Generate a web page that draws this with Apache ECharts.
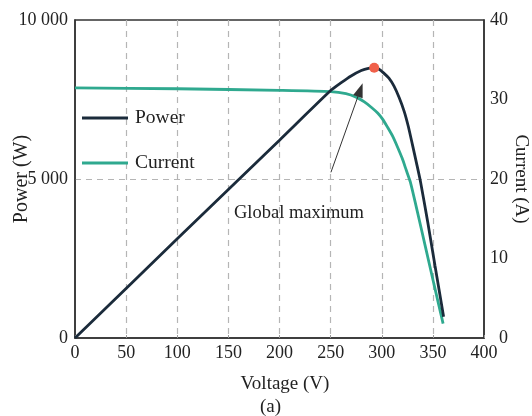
<!DOCTYPE html>
<html>
<head>
<meta charset="utf-8">
<script src="https://cdn.jsdelivr.net/npm/echarts@6/dist/echarts.min.js"></script>
<style>html,body{margin:0;padding:0;background:#fff;}#c{width:532px;height:416px;}</style>
</head>
<body>
<div id="c"></div>
<script>
// Voltage (V) -> Power (W)
const powerData = [
  [0, 0], [100, 3120], [200, 6220], [250, 7780],
  [260, 8020], [270, 8240], [280, 8410], [287, 8480], [292.6, 8500],
  [297, 8460], [302, 8330], [307, 8170], [312, 7920], [317, 7560],
  [322, 7120], [326, 6650], [330, 6080], [334, 5500], [338, 4900],
  [345, 3640], [352, 2290], [360.5, 670]
];
// Voltage (V) -> Current (A)
const currentData = [
  [0, 31.45], [100, 31.35], [200, 31.15], [250, 31.0],
  [265, 30.75], [275, 30.3], [283, 29.7], [290, 29.0], [296, 28.3],
  [301, 27.5], [305.7, 26.5], [311, 25.3], [315.5, 24.0], [320, 22.6],
  [324, 21.1], [328, 19.6], [335, 15.8], [343, 11.3], [351, 6.8], [360, 1.8]
];
const maxPoint = [[292.6, 8500]];
const arrowFrom = [250.3, 5210];
const arrowTo = [279, 7800];
const xTicks = { min: 0, max: 400, interval: 50 };
const powerTicks = { min: 0, max: 10000, interval: 5000 };
const currentTicks = { min: 0, max: 40, interval: 10 };

const FONT = 'Liberation Serif';
const chart = echarts.init(document.getElementById('c'));
const fmtThousands = v => String(v).replace(/\B(?=(\d{3})+(?!\d))/g, ' ');
const dashed = { color: '#b5b5b5', width: 1.2, type: [6, 5] };

chart.setOption({
  animation: false,
  backgroundColor: '#fff',
  textStyle: { fontFamily: FONT },
  grid: {
    left: 75, right: 48, top: 20, bottom: 78, containLabel: false, outerBoundsMode: 'none',
    show: true, borderColor: '#333', borderWidth: 1.5, backgroundColor: 'transparent'
  },
  legend: {
    data: ['Power', 'Current'],
    orient: 'vertical', left: 82, top: 107, padding: 0,
    icon: 'rect', itemWidth: 46, itemHeight: 3, itemGap: 23,
    textStyle: { fontFamily: FONT, fontSize: 19.5, color: '#222', lineHeight: 22, padding: [0, 0, 0, 2] },
    selectedMode: false
  },
  xAxis: {
    type: 'value', min: xTicks.min, max: xTicks.max, interval: xTicks.interval,
    name: 'Voltage (V)', nameLocation: 'middle', nameGap: 37, nameMoveOverlap: false,
    nameTextStyle: { fontFamily: FONT, fontSize: 19, color: '#222', padding: [0, 0, 0, 11] },
    axisLine: { lineStyle: { color: '#333', width: 1.5 } },
    axisTick: { show: true, inside: true, length: 3, lineStyle: { color: '#999' } },
    axisLabel: { fontFamily: FONT, fontSize: 18, color: '#222', margin: 6 },
    splitLine: { show: true, showMinLine: false, showMaxLine: false, lineStyle: dashed }
  },
  yAxis: [
    {
      type: 'value', min: powerTicks.min, max: powerTicks.max, interval: powerTicks.interval,
      name: 'Power (W)', nameLocation: 'middle', nameGap: 43, nameMoveOverlap: false,
      nameTextStyle: { fontFamily: FONT, fontSize: 20, color: '#222' },
      axisLine: { show: true, lineStyle: { color: '#333', width: 1.5 } },
      axisTick: { show: false },
      axisLabel: { fontFamily: FONT, fontSize: 18, color: '#222', margin: 7, formatter: fmtThousands },
      splitLine: { show: true, showMinLine: false, showMaxLine: false, lineStyle: dashed }
    },
    {
      type: 'value', min: currentTicks.min, max: currentTicks.max, interval: currentTicks.interval,
      position: 'right',
      name: 'Current (A)', nameLocation: 'middle', nameGap: 27, nameRotate: -90, nameMoveOverlap: false,
      nameTextStyle: { fontFamily: FONT, fontSize: 19, color: '#222' },
      axisLine: { show: true, lineStyle: { color: '#333', width: 1.5 } },
      axisTick: { show: false },
      axisLabel: { fontFamily: FONT, fontSize: 18, color: '#222', margin: 24, align: 'right' },
      splitLine: { show: false }
    }
  ],
  series: [
    {
      name: 'Current', type: 'line', yAxisIndex: 1, data: currentData,
      smooth: 0.2, showSymbol: false, symbol: 'none',
      lineStyle: { color: '#2fa98f', width: 2.8 }, itemStyle: { color: '#2fa98f' }
    },
    {
      name: 'Power', type: 'line', yAxisIndex: 0, data: powerData,
      smooth: 0.2, showSymbol: false, symbol: 'none',
      lineStyle: { color: '#1b2b3b', width: 2.8 }, itemStyle: { color: '#1b2b3b' },
      markLine: {
        silent: true, animation: false,
        label: { show: false },
        lineStyle: { color: '#333', width: 1, type: 'solid' },
        symbol: ['none', 'triangle'], symbolSize: [10, 14],
        data: [[{ coord: arrowFrom }, { coord: arrowTo }]]
      }
    },
    {
      name: 'Max', type: 'scatter', yAxisIndex: 0, data: maxPoint,
      symbolSize: 10, itemStyle: { color: '#f0604a', opacity: 1 }, z: 5
    }
  ],
  graphic: [
    { type: 'text', left: 234, top: 204, style: { text: 'Global maximum', font: '18.5px "Liberation Serif"', fill: '#222' } },
    { type: 'text', left: 260, top: 398, style: { text: '(a)', font: '19px "Liberation Serif"', fill: '#222' } }
  ]
});
</script>
</body>
</html>
